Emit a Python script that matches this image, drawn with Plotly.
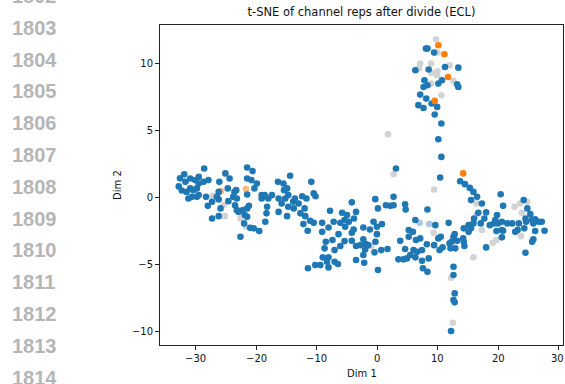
import plotly.graph_objects as go

# ---------------- data ----------------
blue_x = [-31.9,-32.6,-32.8,-32.3,-31.7,-30.9,-30.9,-30.4,-29.8,-30.1,-29.5,-29.5,-30.6,-31.2,-29.8,-29.5,-31.5,
          -28.7,-28.6,-27.9,-28.3,-27.3,-28.0,-27.3,-26.5,-26.2,-26.1,-26.2,-25.9,-26.2,-25.1,-24.4,-24.7,-24.6,
          -23.6,-23.3,-23.8,-23.2,-23.5,-23.2,-22.9,-22.2,-21.9,-21.5,-21.2,-21.5,-20.6,-21.5,-20.8,-19.9,-20.3,
          -21.5,-22.0,-21.0,-20.4,-19.5,-22.6,-21.5,-18.5,-19.1,-19.1,-18.6,-18.2,-18.3,-17.4,-18.0,-16.4,-15.5,
          -16.3,-15.8,-15.4,-14.9,-14.4,-14.7,-15.2,-14.7,-13.9,-13.8,-13.6,-16.3,-14.9,-13.0,
          -10.9,-10.5,-10.2,-12.4,-11.7,-12.0,-12.7,-11.9,-11.1,-10.5,-12.2,-11.5,-9.1,-9.1,-8.05,-7.8,-7.2,-6.4,
          -6.1,-5.8,-5.0,-5.4,-5.3,-4.7,-4.2,-3.5,-3.85,-3.9,-4.2,-8.5,-7.4,-8.7,-7.05,-6.1,-5.4,-4.2,-3.5,-2.8,
          -2.3,-2.0,-1.9,-1.5,-2.3,-1.2,-0.6,-0.05,-0.05,-0.3,-0.45,0.66,1.7,0.78,-0.33,0.12,1.44,2.15,2.7,2.7,
          -2.3,-2.15,-3.5,-8.05,-9.0,-8.3,-7.05,-6.5,-8.05,-9.4,-10.25,-11.45,0.12,4.6,4.7,6.3,5.2,5.9,3.8,5.2,
          6.4,7.1,4.6,6.0,6.6,5.45,6.3,4.9,3.5,4.35,7.4,7.55,7.4,8.3,
          10.4,13.7,14.5,15.3,15.9,16.5,15.5,17.3,20.4,20.8,16.7,16.0,18.0,17.7,15.9,17.1,18.6,15.1,15.5,14.3,
          15.1,19.8,19.5,19.95,19.3,20.6,20.6,19.7,21.5,22.3,23.4,23.2,22.8,24.2,24.8,25.3,24.5,24.6,24.3,25.6,
          26.1,26.7,27.2,25.8,26.1,27.65,25.8,25.6,24.5,20.8,20.6,18.0,14.2,14.3,14.4,12.6,12.8,12.3,13.2,11.95,
          12.9,12.1,10.8,10.3,10.1,10.5,9.4,11.8,9.6,8.2,8.5,12.6,
          8.05,8.3,9.4,6.3,8.5,11.2,13.4,10.7,10.1,7.8,8.3,7.65,13.2,13.4,7.1,8.1,9.0,6.8,7.65,9.9,9.5,10.6,
          10.1,10.6,3.1,12.6,12.8,12.6,12.8,12.2,8.3]
blue_y = [1.7,1.4,0.8,0.5,1.14,1.39,0.65,0.52,0.65,1.27,1.51,1.02,0.02,-0.1,0.02,0.15,0.39,
          1.14,2.14,1.27,0.02,-1.59,-0.65,-0.35,0.02,0.39,1.14,-0.17,-0.84,-1.42,1.77,1.39,0.65,-0.3,
          0.39,0.52,0.02,-0.1,-0.6,-0.97,-1.1,-0.97,-1.34,-0.84,-0.65,2.21,1.94,1.39,1.27,1.02,0.65,
          0.2,-1.96,-2.29,-2.33,-2.53,-2.96,-1.47,-1.84,0.15,-0.1,0.15,-0.72,-1.21,0.15,-0.1,1.14,1.02,
          -0.1,-0.47,0.52,0.65,1.59,0.15,-0.1,-0.72,-0.35,-0.84,-0.1,-1.1,-1.42,-0.47,
          1.14,0.28,0.07,0.07,-0.1,-0.84,-1.21,-1.42,-1.77,-1.92,-2.01,-2.51,-1.92,-2.59,-2.26,-1.02,-1.84,-2.76,
          -1.92,-1.17,-1.34,-1.71,-2.21,-1.84,-0.39,-1.1,-1.59,-2.41,-2.66,-3.33,-3.2,-3.82,-3.95,-3.65,-3.28,-3.26,-3.65,-3.58,
          -3.15,-3.9,-3.5,-3.58,-2.26,-2.41,-1.84,-2.21,-2.76,-3.33,-4.12,-3.95,-3.87,-2.01,-0.15,-0.84,-0.6,-0.65,-0.6,0.02,
          -4.32,-4.9,-4.69,-4.49,-4.49,-4.82,-4.82,-4.99,-5.24,-5.07,-5.07,-5.31,-5.44,-0.54,-0.92,-1.71,-2.46,-2.59,-3.26,-2.96,
          -3.2,-3.08,-3.87,-3.95,-4.08,-4.32,-4.49,-4.57,-4.64,-4.64,-3.95,-5.31,-4.75,-0.92,
          1.47,1.19,0.97,0.69,0.39,0.02,-0.22,-0.47,0.22,-0.65,-1.17,-1.59,-1.14,-1.59,-1.96,-1.96,-2.09,-2.09,-2.33,-2.33,
          -2.59,-1.34,-1.71,-1.96,-1.96,-1.84,-2.46,-2.53,-1.96,-1.96,-1.96,-2.46,-2.59,-0.22,-0.84,-1.27,-1.59,-1.84,-2.33,-1.71,
          -1.66,-1.84,-1.84,-1.96,-2.53,-2.51,-3.15,-3.33,-4.15,-2.51,-3.0,-3.75,-3.08,-3.33,-3.65,-2.96,-2.76,-3.33,-3.26,-3.45,
          -3.82,-3.82,-3.75,-3.95,-3.08,-2.96,-3.58,-1.92,-2.09,-3.52,-4.57,-5.19,
          11.08,11.08,10.78,9.46,9.52,9.71,9.66,8.72,8.47,8.72,8.35,8.22,8.42,8.22,7.65,7.35,6.98,6.86,6.65,6.73,6.16,5.49,
          4.32,3.0,2.14,-5.81,-7.18,-7.68,-7.85,-9.99,-5.57]

gray_x = [-27.2,-25.4,-25.2,-22.6,-21.7,-1.0,2.7,9.4,16.4,16.4,17.3,22.7,23.6,24.8,23.9,23.75,19.7,19.1,15.9,9.3,
          9.7,9.97,7.1,8.9,6.9,9.0,9.97,9.9,11.95,8.9,12.6,10.6,1.8,12.2,12.5]
gray_y = [0.1,-0.6,-1.42,-1.59,-2.21,-3.65,1.71,0.57,-0.47,-1.34,-2.46,-0.72,-0.47,-0.35,-1.17,-2.91,-3.2,-3.41,-4.49,-2.66,
          11.77,10.78,9.96,9.96,9.59,9.26,9.39,9.09,9.84,8.47,8.67,7.6,4.69,-6.01,-9.37]

pale_orange_x = [-25.8, -21.7]
pale_orange_y = [0.45, 0.6]

light_blue_x = [7.0, 8.6]
light_blue_y = [-1.92, -2.01]

orange_x = [14.2, 10.1, 11.1, 11.7, 9.5]
orange_y = [1.77, 11.33, 10.66, 8.96, 7.18]

x_ticks = [-30, -20, -10, 0, 10, 20, 30]
y_ticks = [-10, -5, 0, 5, 10]

LINE_NUMBERS = [str(n) for n in range(1802, 1815)]

TITLE = "t-SNE of channel reps after divide (ECL)"
XLABEL = "Dim 1"
YLABEL = "Dim 2"

# ---------------- figure ----------------
W, H = 565, 384
L, R, T, B = 160, 2, 25, 39
MS = 6.6

fig = go.Figure()

def add(xs, ys, color):
    fig.add_trace(go.Scatter(x=xs, y=ys, mode="markers",
                             marker=dict(color=color, size=MS, line=dict(width=0)),
                             hoverinfo="skip", showlegend=False))

add(gray_x, gray_y, "#d3d3d3")
add(pale_orange_x, pale_orange_y, "#fdbb80")
add(light_blue_x, light_blue_y, "#a9c6e6")
add(blue_x, blue_y, "#1f77b4")
add(orange_x, orange_y, "#ff7f0e")

font = "DejaVu Sans, Liberation Sans, sans-serif"
tick_font = dict(family=font, size=10, color="#111")

axis_common = dict(showgrid=False, zeroline=False, showline=True, linecolor="#222",
                   linewidth=1, mirror=True, ticks="outside", ticklen=4, tickwidth=1,
                   tickcolor="#222", tickfont=tick_font)

X_RANGE = [-35.9, 30.7]

fig.update_layout(
    width=W, height=H,
    margin=dict(l=L, r=R, t=T, b=B, pad=0),
    paper_bgcolor="white", plot_bgcolor="white",
    xaxis=dict(range=X_RANGE, tickvals=x_ticks, showticklabels=False, **axis_common),
    yaxis=dict(range=[-11.03, 12.84], tickvals=y_ticks, **axis_common,
               title=dict(text=YLABEL, font=dict(family=font, size=10, color="#111"), standoff=8)),
    title=dict(text=TITLE, x=(L + (W - R)) / 2 / W, xanchor="center",
               y=1 - 12 / H, yanchor="middle", yref="container",
               font=dict(family=font, size=11.5, color="#111")),
)

# x tick labels as annotations; the last one is right-anchored at the page edge
pw = W - L - R
ph = H - T - B
for v in x_ticks:
    label = ("\u2212" + str(abs(v))) if v < 0 else str(v)
    frac = (v - X_RANGE[0]) / (X_RANGE[1] - X_RANGE[0])
    if frac * pw + L + 7 > W:
        fig.add_annotation(text=label, xref="paper", yref="paper", x=1, y=0,
                           xanchor="right", yanchor="middle", yshift=-13, xshift=R,
                           showarrow=False, font=tick_font, borderpad=0)
    else:
        fig.add_annotation(text=label, xref="paper", yref="paper", x=frac, y=0,
                           xanchor="center", yanchor="middle", yshift=-13,
                           showarrow=False, font=tick_font)

fig.add_annotation(text=XLABEL, xref="paper", yref="paper", x=0.5, y=0,
                   xanchor="center", yanchor="middle", yshift=-28,
                   showarrow=False, font=dict(family=font, size=10, color="#111"))

# line numbers of the paper page on the left
for i, s in enumerate(LINE_NUMBERS):
    py = -4 + i * 31.8
    fig.add_annotation(text=s, xref="paper", yref="paper",
                       x=(10 - L) / pw, y=(H - B - py) / ph,
                       xanchor="left", yanchor="middle", showarrow=False,
                       font=dict(family="Liberation Sans, Arial, sans-serif", size=20,
                                 color="#b5b5b5", weight="bold"))

fig.write_html("out.html", config={"displayModeBar": False},
               post_script="document.body.style.margin='0px';document.body.style.overflow='hidden';")
